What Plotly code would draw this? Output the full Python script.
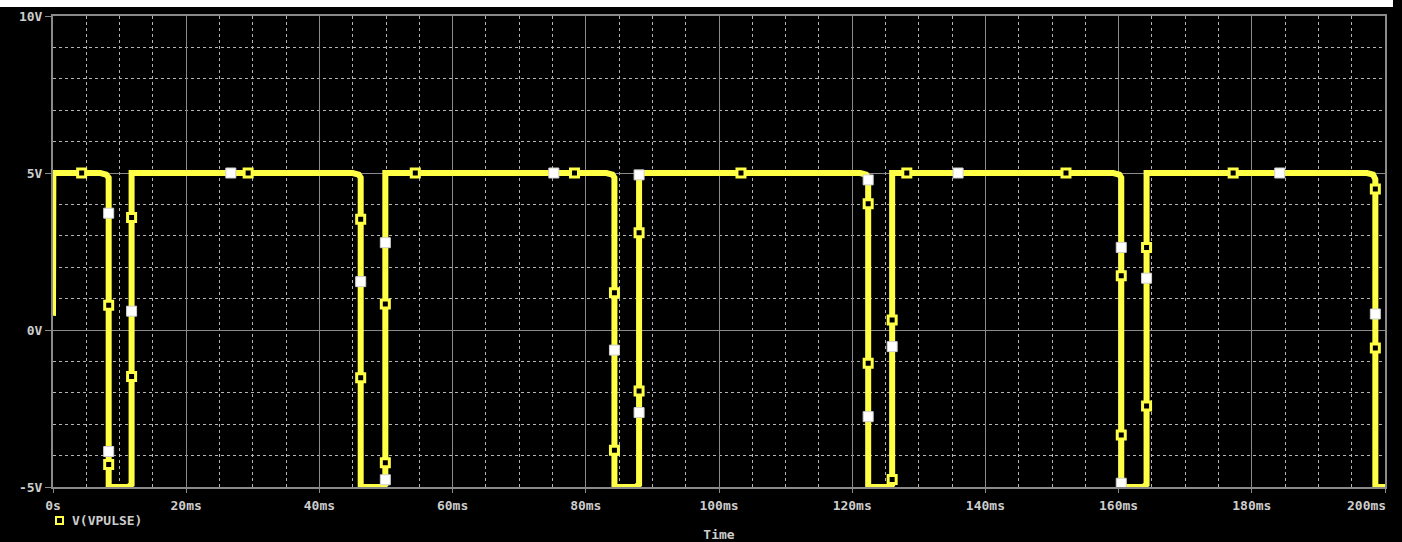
import plotly.graph_objects as go

# ---- waveform vertices (time in ms, voltage in V) ----
time_ms = [
    0.0, 0.05,
    7.1, 8.0, 8.36, 8.36, 11.3, 11.8, 11.8,
    45.0, 45.9, 46.2, 46.2, 49.4, 49.9, 49.9,
    83.1, 84.0, 84.3, 84.3, 87.5, 88.0, 88.0,
    121.2, 122.1, 122.4, 122.4, 125.5, 126.0, 126.0,
    159.2, 160.1, 160.4, 160.4, 163.7, 164.2, 164.2,
    197.3, 198.2, 198.55, 198.55, 200.3,
]
volts = [
    0.45, 5.0,
    5.0, 4.95, 4.85, -5.0, -5.0, -4.92, 5.0,
    5.0, 4.95, 4.85, -5.0, -5.0, -4.92, 5.0,
    5.0, 4.95, 4.85, -5.0, -5.0, -4.92, 5.0,
    5.0, 4.95, 4.85, -5.0, -5.0, -4.92, 5.0,
    5.0, 4.95, 4.85, -5.0, -5.0, -4.92, 5.0,
    5.0, 4.95, 4.8, -5.0, -5.0,
]

# ---- trace symbol markers (yellow open squares) ----
sym_t = [4.3, 8.36, 8.36, 11.8, 11.8, 29.3,
         46.2, 46.2, 49.9, 49.9, 54.4,
         78.3, 84.3, 84.3, 88.0, 88.0, 103.3,
         122.4, 122.4, 126.0, 126.0, 128.2, 152.1,
         160.4, 160.4, 164.2, 164.2, 177.2,
         198.55, 198.55]
sym_v = [5.0, 0.79, -4.28, 3.58, -1.48, 5.0,
         3.53, -1.52, 0.83, -4.23, 5.0,
         5.0, 1.19, -3.83, 3.1, -1.94, 5.0,
         4.02, -1.06, 0.32, -4.76, 5.0, 5.0,
         1.73, -3.34, 2.63, -2.42, 5.0,
         4.49, -0.57]

# ---- white data-point squares ----
pt_t = [8.36, 8.36, 11.8, 26.7,
        46.2, 49.9, 49.9, 75.2,
        84.3, 88.0, 88.0,
        122.4, 122.4, 126.0, 135.9,
        160.4, 160.4, 164.2, 184.2,
        198.55]
pt_v = [3.72, -3.87, 0.6, 5.0,
        1.54, 2.78, -4.77, 5.0,
        -0.64, 4.94, -2.63,
        4.78, -2.76, -0.53, 5.0,
        2.63, -4.88, 1.65, 5.0,
        0.51]

x_tickvals = [0, 20, 40, 60, 80, 100, 120, 140, 160, 180, 200]
x_ticktext = ["0s", "20ms", "40ms", "60ms", "80ms", "100ms", "120ms",
              "140ms", "160ms", "180ms", "200ms"]
y_tickvals = [-5, 0, 5, 10]
y_ticktext = ["-5V", "0V", "5V", "10V"]

YELLOW = "#ffff46"
TXT = "#cdcdcd"
MAJOR = "#8a8a8a"
MINOR = "#b4b4b4"
FONT = dict(family="DejaVu Sans Mono", size=13, color=TXT, weight="bold")

fig = go.Figure()
fig.add_trace(go.Scatter(
    x=time_ms, y=volts, mode="lines", name="V(VPULSE)",
    line=dict(color=YELLOW, width=6), cliponaxis=False, showlegend=False))
fig.add_trace(go.Scatter(
    x=sym_t, y=sym_v, mode="markers", showlegend=False, cliponaxis=False,
    marker=dict(symbol="square", size=8, color="black",
                line=dict(color=YELLOW, width=3))))
fig.add_trace(go.Scatter(
    x=pt_t, y=pt_v, mode="markers", showlegend=False, cliponaxis=False,
    marker=dict(symbol="square", size=10, color="white",
                line=dict(color="#d0d0d0", width=1))))

W, H = 1402, 542
L, R, T, B = 53, 17, 16, 55
pw, ph = W - L - R, H - T - B

# last x label is drawn right-aligned to the axis end (as in the original)
shown_ticktext = x_ticktext[:-1] + [""]

fig.update_layout(
    width=W, height=H,
    margin=dict(l=L, r=R, t=T, b=B, pad=0, autoexpand=False),
    paper_bgcolor="black", plot_bgcolor="black",
    font=FONT, showlegend=False,
    xaxis=dict(
        range=[0, 200], tickvals=x_tickvals, ticktext=shown_ticktext,
        automargin=False,
        showgrid=True, gridcolor=MAJOR, gridwidth=1,
        minor=dict(dtick=5, showgrid=True, gridcolor=MINOR,
                   griddash="3px,3px", gridwidth=1, ticks=""),
        showline=True, linecolor=MAJOR, linewidth=2, mirror=True,
        ticks="outside", ticklen=4, tickcolor=MAJOR, tickfont=FONT,
        ticklabeloverflow="allow", ticklabelstandoff=1,
        zeroline=False,
        title=dict(text="Time", font=FONT, standoff=23),
    ),
    yaxis=dict(
        range=[-5, 10], tickvals=y_tickvals, ticktext=y_ticktext,
        automargin=False,
        showgrid=True, gridcolor=MAJOR, gridwidth=1,
        minor=dict(dtick=1, showgrid=True, gridcolor=MINOR,
                   griddash="3px,3px", gridwidth=1, ticks=""),
        showline=True, linecolor=MAJOR, linewidth=2, mirror=True,
        ticks="outside", ticklen=6, tickcolor=MAJOR, tickfont=FONT,
        ticklabeloverflow="allow",
        zeroline=False,
    ),
    shapes=[
        # white strip across the top of the window
        dict(type="rect", xref="paper", yref="paper",
             x0=-L / pw, x1=(1393 - L) / pw,
             y0=1 + (T - 7) / ph, y1=1 + (T + 2) / ph,
             fillcolor="white", line=dict(width=0), layer="above"),
        # legend symbol
        dict(type="rect", xref="paper", yref="paper",
             x0=(56 - L) / pw, x1=(63 - L) / pw,
             y0=-(517 - (H - B)) / ph, y1=-(524 - (H - B)) / ph,
             fillcolor="black", line=dict(color=YELLOW, width=2)),
    ],
    annotations=[
        dict(text="V(VPULSE)", xref="paper", yref="paper",
             x=(70 - L) / pw, y=-(520.5 - (H - B)) / ph,
             xanchor="left", yanchor="middle", showarrow=False, font=FONT),
        dict(text=x_ticktext[-1], xref="x", yref="paper",
             x=x_tickvals[-1], y=-(505 - (H - B)) / ph, xshift=3,
             xanchor="right", yanchor="middle", showarrow=False, font=FONT),
    ],
)

fig.write_html(
    "out.html",
    config={"displayModeBar": False},
    post_script="document.body.style.margin='0';"
                "document.body.style.background='black';"
                "document.body.style.overflow='hidden';",
)
